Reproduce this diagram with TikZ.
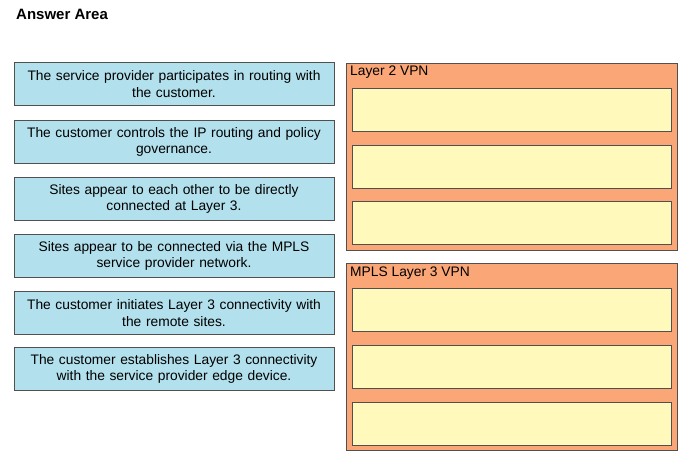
\documentclass[tikz,border=0pt]{standalone}
\usepackage{fontspec}
\setmainfont{Liberation Sans}
\definecolor{stmtblue}{RGB}{178,224,236}
\definecolor{vpnorange}{RGB}{250,166,118}
\definecolor{slotyellow}{RGB}{255,250,188}
\definecolor{edgegray}{RGB}{80,80,80}
\tikzset{
  stmt/.style={draw=edgegray, fill=stmtblue, line width=0.8pt, minimum width=320pt, minimum height=43pt, align=center, text width=318pt, font=\fontsize{13.8}{16.5}\selectfont, inner sep=0pt},
  panel/.style={draw=edgegray, fill=vpnorange, line width=0.8pt},
  slot/.style={draw=edgegray, fill=slotyellow, line width=0.8pt, minimum width=319pt, minimum height=43pt, inner sep=0pt},
  paneltitle/.style={anchor=north west, font=\fontsize{13.8}{16.5}\selectfont, inner sep=0pt}
}
\begin{document}
\begin{tikzpicture}[x=1pt,y=-1pt]
\useasboundingbox (0,0) rectangle (693,471);
\node[anchor=north west, inner sep=0pt, font=\bfseries\fontsize{15}{17}\selectfont] (title) at (16,9) {Answer Area};
% statements
\node[stmt] (s1) at (174,84) {The service provider participates in routing with\\the customer.};
\node[stmt] (s2) at (174,142) {The customer controls the IP routing and policy\\governance.};
\node[stmt] (s3) at (174,199) {Sites appear to each other to be directly\\connected at Layer 3.};
\node[stmt] (s4) at (174,256) {Sites appear to be connected via the MPLS\\service provider network.};
\node[stmt] (s5) at (174,313) {The customer initiates Layer 3 connectivity with\\the remote sites.};
\node[stmt] (s6) at (174,369) {The customer establishes Layer 3 connectivity\\with the service provider edge device.};
% Layer 2 VPN
\draw[panel] (346,63) rectangle (677,250);
\node[paneltitle] (l2) at (350,66) {Layer 2 VPN};
\node[slot] (a1) at (511.5,110) {};
\node[slot] (a2) at (511.5,166.5) {};
\node[slot] (a3) at (511.5,222.5) {};
% MPLS Layer 3 VPN
\draw[panel] (346,263) rectangle (677,450);
\node[paneltitle] (l3) at (350,267) {MPLS Layer 3 VPN};
\node[slot] (b1) at (511.5,310) {};
\node[slot] (b2) at (511.5,366.5) {};
\node[slot] (b3) at (511.5,423.5) {};
\end{tikzpicture}
\end{document}
